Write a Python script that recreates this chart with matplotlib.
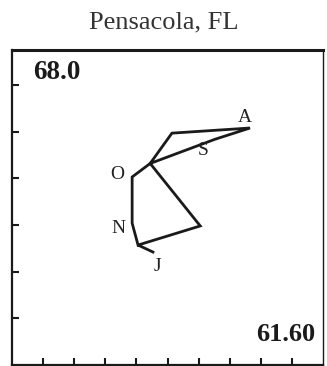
import numpy as np
import matplotlib
matplotlib.use('Agg')
import matplotlib.pyplot as plt

plt.rcParams['font.family'] = ['Liberation Serif', 'DejaVu Serif']

# Climograph path (axis units), in drawing order
path_x = [4.53, 4.05, 6.05, 4.44, 5.14, 7.65, 6.53, 4.44, 3.86, 3.86, 4.05]
path_y = [2.42, 2.57, 2.98, 4.32, 4.97, 5.08, 4.84, 4.32, 4.03, 3.04, 2.57]

# month letters beside the path
lab_text = ['A', 'S', 'O', 'N', 'J']
lab_x = [7.49, 6.14, 3.38, 3.41, 4.66]
lab_y = [5.31, 4.60, 4.09, 2.93, 2.12]

fig = plt.figure(figsize=(3.27, 3.66), dpi=100)
ax = fig.add_axes([0.037, 0.003, 0.951, 0.860])

ax.plot(path_x, path_y, color='#1a1a1a', linewidth=2.0, solid_joinstyle='miter')
for t, x, y in zip(lab_text, lab_x, lab_y):
    ax.text(x, y, t, fontsize=14, ha='center', va='center', color='#222222')

ax.text(0.068, 0.93, '68.0', transform=ax.transAxes, fontsize=19.5,
        fontweight='bold', ha='left', va='center', color='#1a1a1a')
ax.text(0.975, 0.097, '61.60', transform=ax.transAxes, fontsize=19,
        fontweight='bold', ha='right', va='center', color='#1a1a1a')

ax.set_xlim(0, 10)
ax.set_ylim(0, 6.75)
ax.set_xticks(np.arange(1, 10))
ax.set_yticks(np.arange(1, 7))
ax.tick_params(direction='in', length=5, width=1.5, labelbottom=False, labelleft=False,
               top=False, right=False, colors='#1a1a1a')
ax.spines['top'].set_linewidth(2.2)
ax.spines['left'].set_linewidth(1.6)
ax.spines['bottom'].set_linewidth(1.6)
ax.spines['right'].set_linewidth(1.0)
for s in ax.spines.values():
    s.set_color('#1a1a1a')

fig.text(0.5, 0.94, 'Pensacola, FL', ha='center', va='center', fontsize=19, color='#333333')

fig.savefig('out.png', dpi=100)
